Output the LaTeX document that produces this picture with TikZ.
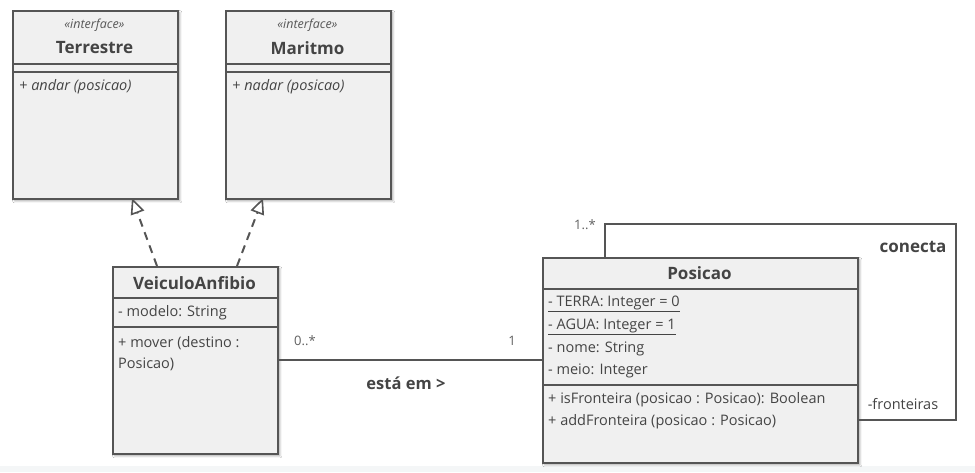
\documentclass[tikz,border=0pt]{standalone}
\usepackage{fontspec}
\setmainfont{Open Sans}
\usetikzlibrary{arrows.meta,shadows.blur}
\definecolor{txt}{HTML}{444444}
\definecolor{bord}{HTML}{555555}
\definecolor{boxfill}{HTML}{F0F0F0}
\definecolor{band}{HTML}{F4F6F7}
\tikzset{
  classbox/.style={draw=bord, line width=1.6pt, fill=boxfill, anchor=north west, inner sep=0pt,
    blur shadow={shadow xshift=2pt, shadow yshift=-2pt, shadow blur steps=6, shadow opacity=35}},
  sep/.style={draw=bord, line width=1.6pt},
  lbl/.style={text=txt, font=\fontsize{14.5}{17}\selectfont, inner sep=0pt},
  lblL/.style={lbl, anchor=west},
  mult/.style={text=txt!85, font=\fontsize{13}{15}\selectfont, inner sep=0pt},
  title/.style={text=txt, font=\fontsize{17}{20}\selectfont\bfseries, inner sep=0pt},
  stereo/.style={text=txt!90, font=\fontsize{12.5}{15}\selectfont\itshape, inner sep=0pt},
  realize/.style={draw=bord, line width=2pt, dash pattern=on 8pt off 6pt,
    -{Triangle[open, length=16pt, width=14pt, fill=white, line width=1.6pt]}},
  assoc/.style={draw=bord, line width=1.6pt},
}
\begin{document}
\begin{tikzpicture}[x=1pt,y=-1pt]
\useasboundingbox (0,0) rectangle (975,472);
\fill[white] (0,0) rectangle (975,472);
\fill[band] (0,466) rectangle (975,472);

% Terrestre
\node[classbox, minimum width=165pt, minimum height=188pt] (terr) at (12,10) {};
\draw[sep] (12,64) -- (177,64);
\draw[sep] (12,72) -- (177,72);
\node[stereo] (terrS) at (94.5,25) {«interface»};
\node[title] (terrT) at (94.5,48) {Terrestre};
\node[lblL, font=\fontsize{14.5}{17}\selectfont\itshape] (terrM) at (19,87) {+ andar (posicao)};

% Maritmo
\node[classbox, minimum width=165pt, minimum height=188pt] (mar) at (225,10) {};
\draw[sep] (225,64) -- (390,64);
\draw[sep] (225,72) -- (390,72);
\node[stereo] (marS) at (307.5,25) {«interface»};
\node[title] (marT) at (307.5,48) {Maritmo};
\node[lblL, font=\fontsize{14.5}{17}\selectfont\itshape] (marM) at (232,87) {+ nadar (posicao)};

% VeiculoAnfibio
\node[classbox, minimum width=165pt, minimum height=187pt] (vei) at (112,266) {};
\draw[sep] (112,298) -- (277,298);
\draw[sep] (112,327) -- (277,327);
\node[title] (veiT) at (194.5,283) {VeiculoAnfibio};
\node[lblL] (veiA) at (118,313) {- modelo: String};
\node[lblL] (veiM1) at (118,343) {+ mover (destino :};
\node[lblL] (veiM2) at (118,364) {Posicao)};

% Posicao
\node[classbox, minimum width=315pt, minimum height=205pt] (pos) at (542,257) {};
\draw[sep] (542,289) -- (857,289);
\draw[sep] (542,385) -- (857,385);
\node[title] (posT) at (699.5,273) {Posicao};
\node[lblL] (posA1) at (548,304) {\underline{- TERRA: Integer = 0}};
\node[lblL] (posA2) at (548,327) {\underline{- AGUA: Integer = 1}};
\node[lblL] (posA3) at (548,349) {- nome: String};
\node[lblL] (posA4) at (548,371) {- meio: Integer};
\node[lblL] (posM1) at (548,400) {+ isFronteira (posicao : Posicao): Boolean};
\node[lblL] (posM2) at (548,422) {+ addFronteira (posicao : Posicao)};

% realizations
\coordinate (r1s) at (157,266);
\coordinate (r1e) at (132,198);
\coordinate (r2s) at (237,266);
\coordinate (r2e) at (263,198);
\draw[realize] (r1s) -- (r1e);
\draw[realize] (r2s) -- (r2e);

% association
\coordinate (a1) at (277,360);
\coordinate (a2) at (542,360);
\draw[assoc] (a1) -- (a2);
\node[mult] (m1) at (305,341) {0..*};
\node[mult] (m2) at (512,341) {1};
\node[title, font=\fontsize{16.5}{19}\selectfont\bfseries] (aname) at (406,383) {está em >};

% self association
\coordinate (s1) at (605,257);
\coordinate (s2) at (605,224);
\coordinate (s3) at (956,224);
\coordinate (s4) at (956,420);
\coordinate (s5) at (857,420);
\draw[assoc] (s1) -- (s2) -- (s3) -- (s4) -- (s5);
\node[mult] (m3) at (585,225) {1..*};
\node[title] (sname) at (913,247) {conecta};
\node[lbl] (role) at (903,404) {-fronteiras};
\end{tikzpicture}
\end{document}
